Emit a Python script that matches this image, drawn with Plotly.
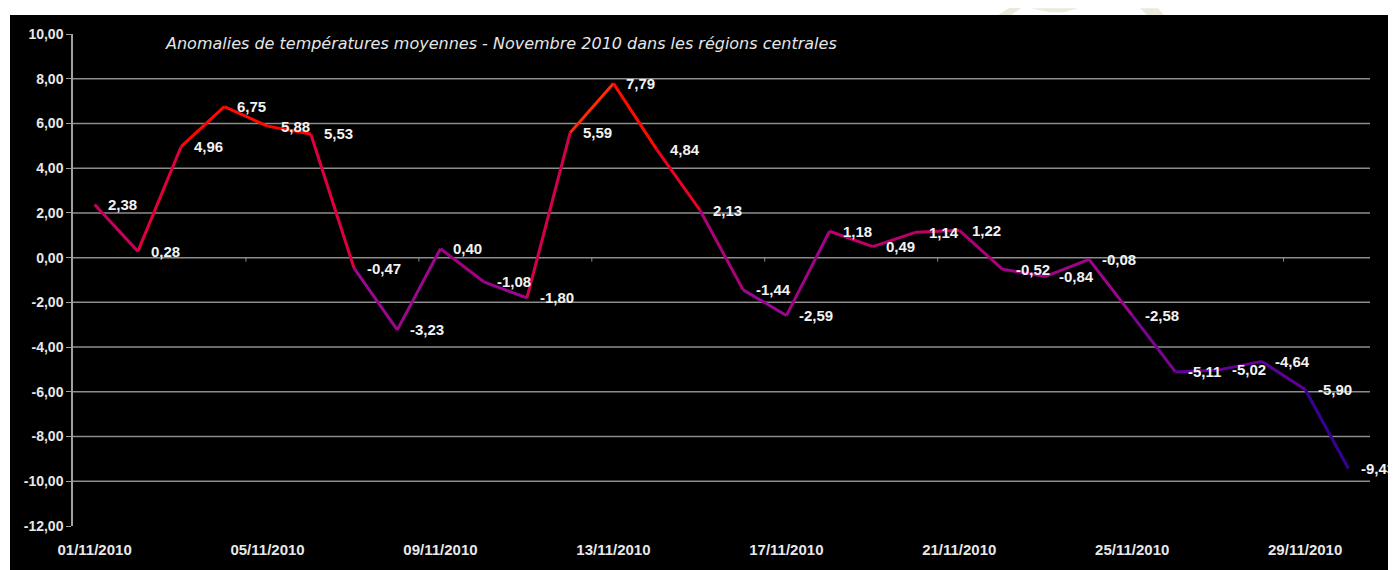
import plotly.graph_objects as go

# ---------------- data ----------------
dates = [f"{d:02d}/11/2010" for d in range(1, 31)]
values = [2.38, 0.28, 4.96, 6.75, 5.88, 5.53, -0.47, -3.23, 0.40, -1.08,
          -1.80, 5.59, 7.79, 4.84, 2.13, -1.44, -2.59, 1.18, 0.49, 1.14,
          1.22, -0.52, -0.84, -0.08, -2.58, -5.11, -5.02, -4.64, -5.90, -9.43]
tick_dates = dates[::4]
y_ticks = list(range(-12, 11, 2))
y_ticktext = [f"{v:.2f}".replace(".", ",") for v in y_ticks]
title_text = "Anomalies de températures moyennes - Novembre 2010 dans les régions centrales"

# ---------------- geometry (page is offset by the 8px body margin) ----------------
OFF = 8
W, H = 1396 - OFF, 570 - OFF
ML, MR, MT, MB = 73 - OFF, 26, 34 - OFF, 41
PW, PH = W - ML - MR, H - MT - MB


def px_x(px):  # page pixel -> paper x
    return (px - OFF - ML) / PW


def px_y(py):  # page pixel -> paper y
    return (H - MB - (py - OFF)) / PH


stops = [(-9.5, (30, 0, 140)), (-6.0, (80, 0, 160)), (-4.5, (110, 0, 150)),
         (-2.5, (150, 10, 150)), (0.0, (165, 0, 130)), (2.0, (215, 0, 75)),
         (4.0, (250, 0, 25)), (5.0, (255, 0, 0)), (6.3, (255, 10, 0)),
         (7.8, (255, 140, 0))]


def colour(v):
    if v <= stops[0][0]:
        c = stops[0][1]
    elif v >= stops[-1][0]:
        c = stops[-1][1]
    else:
        for (a, ca), (b, cb) in zip(stops[:-1], stops[1:]):
            if a <= v <= b:
                t = (v - a) / (b - a)
                c = tuple(round(ca[i] + (cb[i] - ca[i]) * t) for i in range(3))
                break
    return f"rgb({c[0]},{c[1]},{c[2]})"


fig = go.Figure()

# line segments, each coloured by its mean value
for i in range(len(values) - 1):
    seg_x = dates[i:i + 2]
    seg_y = values[i:i + 2]
    fig.add_trace(go.Scatter(
        x=seg_x, y=seg_y, mode="lines",
        line=dict(color=colour(sum(seg_y) / 2), width=3),
        hoverinfo="skip", showlegend=False))

# data labels
annotations = []
for d, v in zip(dates, values):
    annotations.append(dict(
        x=d, y=v, xref="x", yref="y", text=f"{v:.2f}".replace(".", ","),
        showarrow=False, xanchor="left", yanchor="middle", xshift=11,
        font=dict(family="Arial, Liberation Sans", size=15, color="#f2f2f2",
                  weight="bold")))

# title
annotations.append(dict(
    x=px_x(163), y=px_y(44), xref="paper", yref="paper", text=title_text,
    showarrow=False, xanchor="left", yanchor="middle",
    font=dict(family="DejaVu Sans", size=16, color="#e6e6e6", style="italic")))

shapes = []
# white left strip outside the black chart frame
shapes.append(dict(type="rect", xref="paper", yref="paper",
                   x0=px_x(0), x1=px_x(10), y0=px_y(575), y1=px_y(0),
                   fillcolor="white", line=dict(width=0), layer="above"))
# white top band
shapes.append(dict(type="rect", xref="paper", yref="paper",
                   x0=px_x(0), x1=px_x(1400), y0=px_y(15), y1=px_y(0),
                   fillcolor="white", line=dict(width=0), layer="above"))
# faint watermark fragments in the white band
wm = "#ebe8dc"
for poly in [[(998, 15), (1011, 15), (1024, 6), (1012, 6)],
             [(1030, 8), (1078, 8), (1064, 12), (1050, 12)],
             [(1140, 8), (1158, 8), (1164, 15), (1147, 15)]]:
    path = "M " + " L ".join(f"{px_x(a)},{px_y(b)}" for a, b in poly) + " Z"
    shapes.append(dict(type="path", xref="paper", yref="paper", path=path,
                       fillcolor=wm, line=dict(width=0), layer="above"))

# horizontal gridlines (inside the range only)
for g in y_ticks[1:-1]:
    shapes.append(dict(type="line", xref="paper", yref="y", x0=0, x1=1,
                       y0=g, y1=g, line=dict(color="#8c8c8c", width=1.5),
                       layer="below"))

# small category tick marks on the zero line, every 4 days
for k in range(4, len(dates), 4):
    shapes.append(dict(type="line", xref="x", yref="y", x0=k - 0.5, x1=k - 0.5,
                       y0=0, y1=-0.18, line=dict(color="#8c8c8c", width=1),
                       layer="below"))

fig.update_layout(
    width=W, height=H,
    margin=dict(l=ML, r=MR, t=MT, b=MB),
    paper_bgcolor="black", plot_bgcolor="black",
    annotations=annotations, shapes=shapes,
    xaxis=dict(type="category", categoryorder="array", categoryarray=dates,
               range=[-0.5, len(dates) - 0.5], tickvals=tick_dates,
               showgrid=False, zeroline=False, showline=False,
               ticks="outside", ticklen=10, tickcolor="rgba(0,0,0,0)",
               tickfont=dict(family="Arial, Liberation Sans", size=15,
                             color="#e8e8e8", weight="bold")),
    yaxis=dict(range=[-12, 10], tickvals=y_ticks, ticktext=y_ticktext,
               showgrid=False, zeroline=False,
               showline=True, linecolor="#a0a0a0", linewidth=1.5,
               ticks="outside", ticklen=5, tickcolor="#a0a0a0", tickwidth=1,
               tickfont=dict(family="Arial, Liberation Sans", size=14,
                             color="#e8e8e8", weight="bold")),
)

fig.write_html("out.html")
